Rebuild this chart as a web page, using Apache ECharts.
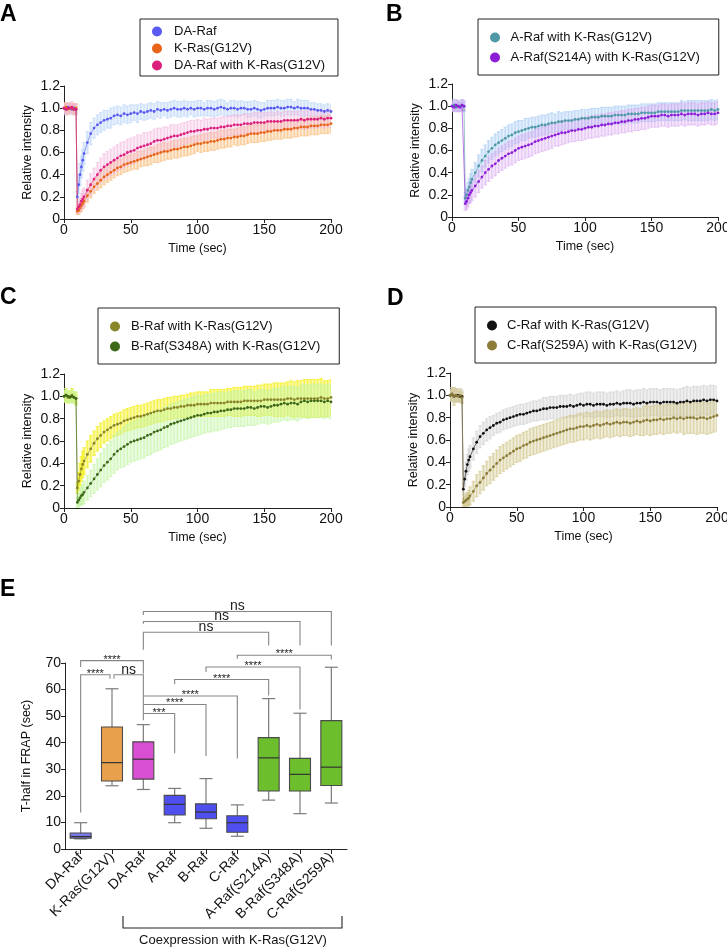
<!DOCTYPE html>
<html>
<head>
<meta charset="utf-8">
<script src="https://cdn.jsdelivr.net/npm/echarts@6/dist/echarts.min.js"></script>
<style>
html, body { margin: 0; padding: 0; background: #fff; }
#main { width: 727px; height: 947px; }
</style>
</head>
<body>
<div id="main"></div>
<script>
// FRAP sampling times (sec)
var time = [
  0,1.5,3,4.5,6,7.5,9,
  10,11,12,13,14,
  15,17.5,20,22.5,25,27.5,30,32.5,35,37.5,
  40,42.5,45,47.5,50,52.5,55,57.5,60,62.5,
  65,67.5,70,72.5,75,77.5,80,82.5,85,87.5,
  90,92.5,95,97.5,100,102.5,105,107.5,110,112.5,
  115,117.5,120,122.5,125,127.5,130,132.5,135,137.5,
  140,142.5,145,147.5,150,152.5,155,157.5,160,162.5,
  165,167.5,170,172.5,175,177.5,180,182.5,185,187.5,
  190,192.5,195,197.5,200
];

// A
var daRaf = [
  1.00,0.99,1.01,1.00,0.99,1.00,0.99,
  0.20,0.31,0.40,0.47,0.53,
  0.59,0.69,0.77,0.82,0.85,0.87,0.89,0.90,0.91,0.93,
  0.94,0.93,0.95,0.94,0.95,0.96,0.95,0.97,0.96,0.97,
  0.98,0.97,0.99,0.98,0.99,0.98,0.99,1.00,0.99,0.99,
  1.00,0.99,1.00,0.99,1.00,1.00,0.99,1.00,1.00,0.99,
  1.00,1.01,1.00,0.99,1.00,1.00,0.99,1.00,1.00,0.99,
  0.99,1.00,0.99,0.98,0.99,1.00,1.00,1.00,1.01,1.00,
  1.00,1.01,1.01,1.00,1.01,1.00,1.00,1.00,0.99,0.99,
  0.98,0.98,0.97,0.98,0.97
];
var daRafSd = [
  0.04,0.05,0.04,0.04,0.05,0.04,0.04,
  0.05,0.08,0.10,0.10,0.10,
  0.10,0.10,0.10,0.09,0.09,0.09,0.09,0.08,0.09,0.08,
  0.08,0.08,0.08,0.08,0.08,0.07,0.08,0.07,0.07,0.07,
  0.07,0.07,0.07,0.07,0.06,0.07,0.07,0.07,0.07,0.07,
  0.07,0.07,0.06,0.07,0.07,0.07,0.06,0.07,0.07,0.07,
  0.07,0.07,0.07,0.06,0.07,0.07,0.07,0.07,0.06,0.07,
  0.07,0.07,0.07,0.07,0.06,0.07,0.07,0.07,0.07,0.07,
  0.07,0.07,0.07,0.06,0.07,0.07,0.07,0.07,0.06,0.06,
  0.06,0.06,0.06,0.06,0.06
];
var kRas = [
  1.00,1.01,0.99,1.00,1.00,0.99,1.00,
  0.07,0.08,0.10,0.12,0.14,
  0.16,0.21,0.25,0.29,0.32,0.35,0.38,0.40,0.42,0.44,
  0.46,0.47,0.49,0.50,0.51,0.52,0.53,0.54,0.55,0.56,
  0.57,0.58,0.59,0.60,0.61,0.61,0.62,0.63,0.63,0.64,
  0.65,0.65,0.66,0.67,0.68,0.68,0.69,0.69,0.70,0.70,
  0.71,0.72,0.72,0.73,0.73,0.74,0.74,0.75,0.75,0.76,
  0.77,0.77,0.77,0.78,0.78,0.79,0.79,0.80,0.80,0.80,
  0.81,0.81,0.81,0.82,0.82,0.83,0.83,0.83,0.84,0.84,
  0.84,0.85,0.85,0.85,0.86
];
var kRasSd = [
  0.04,0.04,0.05,0.04,0.04,0.05,0.04,
  0.03,0.04,0.04,0.05,0.05,
  0.05,0.06,0.06,0.06,0.06,0.07,0.07,0.07,0.07,0.07,
  0.07,0.07,0.07,0.07,0.07,0.07,0.08,0.07,0.07,0.08,
  0.08,0.07,0.08,0.08,0.08,0.07,0.08,0.08,0.08,0.08,
  0.08,0.08,0.08,0.08,0.07,0.08,0.08,0.08,0.08,0.08,
  0.08,0.08,0.08,0.08,0.08,0.07,0.08,0.08,0.08,0.08,
  0.08,0.08,0.08,0.08,0.08,0.08,0.08,0.08,0.08,0.08,
  0.08,0.08,0.08,0.08,0.08,0.08,0.08,0.08,0.08,0.08,
  0.08,0.08,0.08,0.08,0.08
];
var daRafKras = [
  1.00,0.99,1.00,1.00,1.01,0.99,0.99,
  0.09,0.11,0.13,0.16,0.18,
  0.20,0.26,0.31,0.36,0.40,0.44,0.47,0.49,0.51,0.53,
  0.55,0.57,0.58,0.60,0.61,0.62,0.64,0.65,0.66,0.67,
  0.68,0.70,0.71,0.71,0.72,0.73,0.74,0.75,0.75,0.76,
  0.77,0.78,0.79,0.79,0.80,0.80,0.81,0.81,0.82,0.82,
  0.82,0.83,0.83,0.84,0.84,0.85,0.85,0.85,0.86,0.86,
  0.86,0.87,0.87,0.87,0.87,0.88,0.88,0.88,0.88,0.88,
  0.89,0.89,0.89,0.89,0.89,0.90,0.89,0.90,0.90,0.90,
  0.90,0.91,0.90,0.91,0.91
];
var daRafKrasSd = [
  0.05,0.05,0.04,0.05,0.05,0.04,0.05,
  0.04,0.05,0.06,0.07,0.08,
  0.08,0.09,0.10,0.10,0.11,0.11,0.12,0.12,0.12,0.12,
  0.12,0.12,0.12,0.12,0.12,0.12,0.12,0.11,0.12,0.11,
  0.11,0.11,0.11,0.11,0.11,0.10,0.11,0.10,0.10,0.10,
  0.10,0.10,0.10,0.10,0.10,0.09,0.10,0.09,0.09,0.09,
  0.09,0.09,0.09,0.09,0.09,0.09,0.09,0.09,0.09,0.09,
  0.09,0.09,0.09,0.09,0.09,0.08,0.09,0.08,0.09,0.08,
  0.08,0.08,0.08,0.08,0.08,0.08,0.08,0.08,0.08,0.08,
  0.08,0.08,0.08,0.08,0.08
];

// B
var aRaf = [
  1.00,1.01,0.99,1.00,1.00,1.01,1.00,
  0.17,0.20,0.24,0.27,0.31,
  0.34,0.40,0.46,0.51,0.55,0.59,0.62,0.65,0.67,0.69,
  0.71,0.73,0.74,0.76,0.77,0.78,0.79,0.80,0.81,0.81,
  0.82,0.83,0.83,0.84,0.85,0.85,0.86,0.86,0.87,0.87,
  0.87,0.88,0.88,0.89,0.89,0.89,0.90,0.90,0.90,0.91,
  0.91,0.91,0.91,0.92,0.92,0.92,0.92,0.93,0.93,0.93,
  0.93,0.94,0.94,0.94,0.94,0.94,0.95,0.95,0.95,0.95,
  0.95,0.95,0.95,0.96,0.96,0.96,0.96,0.96,0.96,0.96,
  0.96,0.96,0.97,0.96,0.97
];
var aRafSd = [
  0.04,0.05,0.04,0.05,0.04,0.05,0.04,
  0.05,0.06,0.07,0.08,0.08,
  0.09,0.09,0.10,0.10,0.10,0.10,0.10,0.10,0.10,0.10,
  0.10,0.10,0.10,0.10,0.10,0.09,0.10,0.09,0.09,0.09,
  0.09,0.09,0.09,0.09,0.09,0.08,0.09,0.08,0.08,0.08,
  0.08,0.08,0.08,0.08,0.08,0.08,0.08,0.08,0.08,0.08,
  0.08,0.08,0.08,0.08,0.08,0.08,0.08,0.08,0.08,0.08,
  0.08,0.08,0.08,0.08,0.08,0.08,0.08,0.08,0.08,0.08,
  0.08,0.08,0.08,0.09,0.08,0.09,0.09,0.09,0.09,0.09,
  0.09,0.09,0.09,0.09,0.09
];
var aRafS214A = [
  1.00,0.99,1.01,1.00,0.99,1.01,1.00,
  0.12,0.14,0.17,0.20,0.22,
  0.24,0.28,0.32,0.36,0.40,0.43,0.46,0.48,0.51,0.53,
  0.55,0.57,0.58,0.60,0.62,0.63,0.64,0.65,0.66,0.68,
  0.69,0.70,0.71,0.72,0.73,0.74,0.75,0.76,0.76,0.77,
  0.78,0.78,0.79,0.79,0.80,0.81,0.81,0.82,0.82,0.83,
  0.83,0.84,0.84,0.85,0.85,0.86,0.86,0.87,0.87,0.88,
  0.88,0.89,0.89,0.90,0.91,0.91,0.91,0.92,0.92,0.91,
  0.92,0.92,0.92,0.93,0.92,0.93,0.93,0.93,0.92,0.93,
  0.93,0.94,0.93,0.93,0.94
];
var aRafS214ASd = [
  0.05,0.04,0.05,0.05,0.04,0.05,0.05,
  0.06,0.07,0.08,0.08,0.09,
  0.09,0.10,0.10,0.10,0.11,0.11,0.11,0.11,0.11,0.11,
  0.11,0.11,0.11,0.11,0.11,0.11,0.11,0.11,0.11,0.11,
  0.11,0.11,0.11,0.11,0.11,0.10,0.11,0.11,0.10,0.10,
  0.10,0.10,0.10,0.10,0.10,0.10,0.10,0.10,0.10,0.10,
  0.10,0.10,0.10,0.10,0.10,0.10,0.10,0.10,0.10,0.10,
  0.10,0.10,0.10,0.10,0.10,0.10,0.10,0.10,0.10,0.10,
  0.10,0.10,0.10,0.10,0.10,0.10,0.10,0.10,0.10,0.10,
  0.10,0.10,0.10,0.10,0.10
];

// C
var bRaf = [
  1.00,1.01,0.99,1.00,1.01,0.99,0.98,
  0.18,0.24,0.30,0.35,0.39,
  0.42,0.48,0.53,0.58,0.62,0.65,0.68,0.70,0.72,0.74,
  0.75,0.76,0.78,0.79,0.80,0.81,0.82,0.82,0.83,0.84,
  0.85,0.86,0.87,0.87,0.88,0.89,0.89,0.90,0.90,0.91,
  0.91,0.92,0.92,0.92,0.93,0.93,0.93,0.93,0.94,0.94,
  0.94,0.94,0.94,0.95,0.95,0.95,0.95,0.95,0.96,0.96,
  0.96,0.96,0.96,0.96,0.97,0.97,0.97,0.97,0.97,0.97,
  0.97,0.98,0.98,0.97,0.98,0.98,0.98,0.98,0.98,0.98,
  0.98,0.99,0.98,0.98,0.99
];
var bRafSd = [
  0.05,0.06,0.05,0.05,0.06,0.05,0.05,
  0.05,0.08,0.10,0.11,0.12,
  0.12,0.12,0.12,0.11,0.11,0.11,0.10,0.10,0.10,0.10,
  0.10,0.10,0.10,0.10,0.10,0.10,0.10,0.10,0.10,0.10,
  0.10,0.10,0.10,0.10,0.10,0.10,0.10,0.10,0.10,0.10,
  0.10,0.10,0.11,0.11,0.11,0.11,0.11,0.11,0.12,0.12,
  0.12,0.12,0.12,0.12,0.12,0.13,0.13,0.13,0.13,0.13,
  0.13,0.13,0.14,0.14,0.14,0.14,0.14,0.15,0.15,0.15,
  0.15,0.15,0.16,0.16,0.16,0.16,0.17,0.17,0.17,0.17,
  0.17,0.17,0.16,0.16,0.16
];
var bRafS348A = [
  1.00,1.01,1.00,0.99,1.00,0.99,0.98,
  0.05,0.07,0.09,0.11,0.12,
  0.14,0.18,0.22,0.26,0.30,0.34,0.38,0.41,0.44,0.48,
  0.51,0.53,0.55,0.57,0.59,0.60,0.61,0.62,0.63,0.65,
  0.66,0.68,0.69,0.70,0.72,0.73,0.75,0.76,0.77,0.78,
  0.79,0.80,0.81,0.82,0.83,0.83,0.84,0.85,0.85,0.86,
  0.86,0.87,0.87,0.88,0.88,0.89,0.89,0.89,0.89,0.90,
  0.90,0.89,0.90,0.91,0.91,0.90,0.91,0.92,0.92,0.93,
  0.94,0.93,0.94,0.94,0.93,0.95,0.96,0.95,0.96,0.96,
  0.96,0.96,0.95,0.96,0.95
];
var bRafS348ASd = [
  0.05,0.06,0.05,0.05,0.06,0.05,0.06,
  0.05,0.06,0.07,0.08,0.09,
  0.10,0.11,0.12,0.13,0.14,0.15,0.15,0.16,0.16,0.17,
  0.17,0.17,0.18,0.18,0.18,0.18,0.18,0.18,0.18,0.18,
  0.18,0.18,0.18,0.18,0.18,0.18,0.18,0.18,0.18,0.18,
  0.18,0.18,0.18,0.18,0.18,0.17,0.17,0.17,0.17,0.17,
  0.17,0.17,0.16,0.16,0.16,0.16,0.16,0.16,0.16,0.16,
  0.16,0.15,0.15,0.15,0.15,0.15,0.15,0.15,0.15,0.15,
  0.15,0.15,0.15,0.15,0.15,0.15,0.15,0.15,0.15,0.15,
  0.15,0.15,0.15,0.15,0.15
];

// D
var cRaf = [
  1.00,1.01,0.99,1.00,1.00,0.99,0.99,
  0.16,0.25,0.32,0.38,0.42,
  0.45,0.52,0.58,0.63,0.66,0.69,0.71,0.73,0.75,0.76,
  0.78,0.79,0.80,0.81,0.82,0.83,0.83,0.84,0.85,0.86,
  0.86,0.87,0.88,0.88,0.89,0.89,0.89,0.90,0.90,0.90,
  0.91,0.90,0.91,0.92,0.91,0.92,0.92,0.91,0.92,0.92,
  0.92,0.91,0.92,0.92,0.93,0.92,0.93,0.93,0.93,0.92,
  0.93,0.93,0.94,0.93,0.94,0.94,0.94,0.93,0.94,0.94,
  0.94,0.94,0.93,0.94,0.94,0.95,0.94,0.95,0.95,0.95,
  0.96,0.95,0.96,0.96,0.95
];
var cRafSd = [
  0.05,0.06,0.05,0.06,0.05,0.05,0.06,
  0.05,0.07,0.08,0.09,0.10,
  0.10,0.10,0.10,0.10,0.10,0.10,0.10,0.09,0.09,0.09,
  0.09,0.09,0.09,0.09,0.09,0.09,0.09,0.09,0.09,0.09,
  0.09,0.09,0.10,0.10,0.10,0.10,0.10,0.10,0.10,0.10,
  0.10,0.10,0.10,0.10,0.11,0.11,0.11,0.11,0.11,0.11,
  0.11,0.11,0.11,0.11,0.11,0.11,0.11,0.12,0.12,0.12,
  0.12,0.12,0.12,0.12,0.12,0.12,0.12,0.12,0.12,0.12,
  0.12,0.12,0.12,0.12,0.13,0.13,0.13,0.13,0.13,0.13,
  0.13,0.13,0.13,0.13,0.13
];
var cRafS259A = [
  1.00,1.01,0.99,1.00,0.99,1.00,0.98,
  0.04,0.05,0.06,0.07,0.08,
  0.10,0.14,0.19,0.22,0.26,0.30,0.33,0.36,0.39,0.42,
  0.44,0.46,0.48,0.50,0.52,0.53,0.55,0.56,0.58,0.59,
  0.60,0.61,0.62,0.63,0.64,0.65,0.66,0.67,0.68,0.69,
  0.70,0.70,0.71,0.72,0.72,0.73,0.72,0.73,0.74,0.73,
  0.74,0.75,0.74,0.75,0.76,0.75,0.76,0.76,0.75,0.76,
  0.77,0.76,0.77,0.78,0.77,0.78,0.78,0.79,0.78,0.79,
  0.79,0.80,0.79,0.80,0.79,0.80,0.80,0.80,0.79,0.80,
  0.80,0.79,0.80,0.81,0.82
];
var cRafS259ASd = [
  0.05,0.06,0.08,0.06,0.05,0.06,0.05,
  0.04,0.05,0.06,0.06,0.07,
  0.08,0.09,0.10,0.10,0.11,0.11,0.12,0.12,0.12,0.12,
  0.12,0.12,0.12,0.12,0.12,0.12,0.12,0.12,0.12,0.12,
  0.12,0.12,0.12,0.12,0.12,0.12,0.12,0.12,0.12,0.12,
  0.12,0.12,0.12,0.12,0.12,0.12,0.12,0.12,0.12,0.12,
  0.12,0.12,0.12,0.12,0.12,0.12,0.12,0.12,0.12,0.12,
  0.12,0.12,0.13,0.13,0.13,0.13,0.13,0.13,0.13,0.13,
  0.13,0.13,0.13,0.13,0.14,0.14,0.14,0.14,0.14,0.14,
  0.14,0.14,0.14,0.14,0.14
];

// E: T-half in FRAP, [min, Q1, median, Q3, max]
var tHalfCats = ['DA-Raf', 'K-Ras(G12V)', 'DA-Raf', 'A-Raf', 'B-Raf', 'C-Raf',
  'A-Raf(S214A)', 'B-Raf(S348A)', 'C-Raf(S259A)'];
var tHalf = [
  [3.8, 4.1, 4.7, 6.0, 9.9],
  [23.8, 25.6, 32.5, 45.9, 60.3],
  [22.4, 26.3, 33.8, 40.3, 46.8],
  [9.9, 12.8, 16.8, 20.2, 22.8],
  [7.8, 11.4, 13.9, 17.0, 26.5],
  [4.8, 6.3, 9.9, 12.5, 16.6],
  [18.4, 21.8, 34.3, 41.9, 56.6],
  [13.3, 21.8, 28.1, 34.1, 51.1],
  [17.3, 23.9, 30.8, 48.3, 68.4]
];
// significance brackets: [from, to, top, leftLegEnd, rightLegEnd]
var brackets = [
  [2, 8, 89.4, 88.1, 76.6],
  [2, 7, 85.6, 84.8, 76.6],
  [2, 6, 81.6, 75.0, 76.6],
  [0, 2, 70.9, 68.5, 66.0],
  [0, 1, 65.6, 13.7, 64.1],
  [1, 2, 65.6, 64.1, 48.5],
  [5, 8, 72.9, 71.6, 71.3],
  [4, 7, 68.5, 66.6, 52.5],
  [3, 6, 63.8, 62.0, 57.8],
  [2, 5, 57.6, 57.6, 34.1],
  [2, 4, 54.4, 54.4, 35.0],
  [2, 3, 51.0, 51.0, 36.0]
];
var bracketLabels = ['ns', 'ns', 'ns', '****', '****', 'ns', '****', '****', '****', '****', '****', '***'];

var FONT = '"Liberation Sans", Arial, Helvetica, sans-serif';
var boxColors = ['#7c7cf2', '#e9a04c', '#d84fd2', '#4f4ff0', '#4f4ff0', '#4f4ff0', '#6cbe2c', '#6cbe2c', '#6cbe2c'];
// small horizontal shifts where two brackets meet on one box
var legShift = { 4: [0, -2], 5: [2, 0] };

var panels = [
  { grid: 0, series: [
    { name: 'DA-Raf', mean: daRaf, sd: daRafSd, color: '#5a5af2', band: [196, 218, 248], a: 0.85 },
    { name: 'K-Ras(G12V)', mean: kRas, sd: kRasSd, color: '#e8641a', band: [248, 196, 136], a: 0.85 },
    { name: 'DA-Raf with K-Ras(G12V)', mean: daRafKras, sd: daRafKrasSd, color: '#dc1f7c', band: [242, 182, 222], a: 0.6 }
  ]},
  { grid: 1, series: [
    { name: 'A-Raf with K-Ras(G12V)', mean: aRaf, sd: aRafSd, color: '#4f98a6', band: [180, 210, 246], a: 0.85 },
    { name: 'A-Raf(S214A) with K-Ras(G12V)', mean: aRafS214A, sd: aRafS214ASd, color: '#8d1ed8', band: [216, 168, 240], a: 0.6 }
  ]},
  { grid: 2, series: [
    { name: 'B-Raf with K-Ras(G12V)', mean: bRaf, sd: bRafSd, color: '#888628', band: [244, 240, 40], a: 0.9 },
    { name: 'B-Raf(S348A) with K-Ras(G12V)', mean: bRafS348A, sd: bRafS348ASd, color: '#3c6818', band: [194, 244, 164], a: 0.72 }
  ]},
  { grid: 3, series: [
    { name: 'C-Raf with K-Ras(G12V)', mean: cRaf, sd: cRafSd, color: '#111111', band: [214, 214, 214], a: 0.85 },
    { name: 'C-Raf(S259A) with K-Ras(G12V)', mean: cRafS259A, sd: cRafS259ASd, color: '#8c7c3a', band: [210, 198, 142], a: 0.75 }
  ]}
];

var grids = [
  { left: 64, top: 86, width: 267, height: 133 },
  { left: 452, top: 84, width: 266, height: 133 },
  { left: 64, top: 374, width: 267, height: 134 },
  { left: 450, top: 373, width: 267, height: 134 },
  { left: 65, top: 663, width: 282, height: 186 }
];
grids.forEach(function (g) { g.outerBoundsMode = 'none'; g.containLabel = false; });

var axisLine = { show: true, lineStyle: { color: '#222', width: 1 } };
var axisTick = { show: true, length: 4, lineStyle: { color: '#222', width: 1 } };
var labelStyle = { color: '#111', fontSize: 14, fontFamily: FONT, margin: 4 };
var nameStyle = { color: '#111', fontSize: 12.5, fontFamily: FONT };

var xAxes = [], yAxes = [];
for (var g = 0; g < 4; g++) {
  xAxes.push({
    type: 'value', gridIndex: g, min: 0, max: 200, interval: 50,
    name: 'Time (sec)', nameLocation: 'middle', nameGap: 23, nameTextStyle: nameStyle,
    axisLine: axisLine, axisTick: axisTick, axisLabel: labelStyle, splitLine: { show: false }
  });
  yAxes.push({
    type: 'value', gridIndex: g, min: 0, max: 1.2, interval: 0.2,
    name: 'Relative intensity', nameLocation: 'middle', nameGap: 30, nameTextStyle: nameStyle,
    axisLine: axisLine, axisTick: axisTick, splitLine: { show: false },
    axisLabel: Object.assign({}, labelStyle, {
      formatter: function (v) { return v === 0 ? '0' : v.toFixed(1); }
    })
  });
}
xAxes.push({
  type: 'category', gridIndex: 4, data: tHalfCats, boundaryGap: true,
  axisLine: axisLine, axisTick: { show: true, length: 5, alignWithLabel: true, lineStyle: { color: '#222' } },
  axisLabel: Object.assign({}, labelStyle, { rotate: 45, interval: 0, margin: 6 }),
  splitLine: { show: false }
});
yAxes.push({
  type: 'value', gridIndex: 4, min: 0, max: 70, interval: 10,
  name: 'T-half in FRAP (sec)', nameLocation: 'middle', nameGap: 32, nameTextStyle: nameStyle,
  axisLine: axisLine, axisTick: axisTick, axisLabel: labelStyle, splitLine: { show: false }
});

// SD drawn as dense error bars: a wide soft stroke plus a thin capped bar
function errorBars(rgb, a) {
  var soft = 'rgba(' + rgb.join(',') + ',' + (a * 0.55) + ')';
  var hard = 'rgba(' + rgb.join(',') + ',' + a + ')';
  return function (params, api) {
    var t = api.value(0);
    var lo = api.coord([t, api.value(1)]);
    var hi = api.coord([t, api.value(2)]);
    var w = 1.7;
    var st = { stroke: hard, lineWidth: 0.9 };
    return { type: 'group', children: [
      { type: 'line', shape: { x1: lo[0], y1: lo[1], x2: hi[0], y2: hi[1] }, style: { stroke: soft, lineWidth: 3.2 } },
      { type: 'line', shape: { x1: lo[0], y1: lo[1], x2: hi[0], y2: hi[1] }, style: st },
      { type: 'line', shape: { x1: lo[0] - w, y1: lo[1], x2: lo[0] + w, y2: lo[1] }, style: st },
      { type: 'line', shape: { x1: hi[0] - w, y1: hi[1], x2: hi[0] + w, y2: hi[1] }, style: st }
    ]};
  };
}

var series = [];
panels.forEach(function (p) {
  p.series.forEach(function (s) {
    var errData = time.map(function (t, i) { return [t, s.mean[i] - s.sd[i], s.mean[i] + s.sd[i]]; });
    series.push({
      type: 'custom', name: s.name + ' SD', xAxisIndex: p.grid, yAxisIndex: p.grid,
      renderItem: errorBars(s.band, s.a), data: errData, clip: true,
      encode: { x: 0, y: [1, 2] }, silent: true
    });
    series.push({
      type: 'line', name: s.name, xAxisIndex: p.grid, yAxisIndex: p.grid,
      data: time.map(function (t, i) { return [t, s.mean[i]]; }),
      symbol: 'circle', symbolSize: 2.8, showSymbol: true, showAllSymbol: true,
      itemStyle: { color: s.color }, lineStyle: { color: s.color, width: 0.6 },
      silent: true
    });
  });
});

// E boxes
series.push({
  type: 'custom', name: 'T-half', xAxisIndex: 4, yAxisIndex: 4,
  data: tHalf.map(function (b, i) { return [i].concat(b); }),
  encode: { x: 0, y: [1, 2, 3, 4, 5] },
  renderItem: function (params, api) {
    var i = api.value(0);
    var pMin = api.coord([i, api.value(1)]), pQ1 = api.coord([i, api.value(2)]),
      pMed = api.coord([i, api.value(3)]), pQ3 = api.coord([i, api.value(4)]),
      pMax = api.coord([i, api.value(5)]);
    var x = pMed[0], hw = 10.5, cw = 6.5;
    var wst = { stroke: '#7a7a7a', lineWidth: 1.2 };
    return { type: 'group', children: [
      { type: 'line', shape: { x1: x, y1: pQ3[1], x2: x, y2: pMax[1] }, style: wst },
      { type: 'line', shape: { x1: x - cw, y1: pMax[1], x2: x + cw, y2: pMax[1] }, style: wst },
      { type: 'line', shape: { x1: x, y1: pQ1[1], x2: x, y2: pMin[1] }, style: wst },
      { type: 'line', shape: { x1: x - cw, y1: pMin[1], x2: x + cw, y2: pMin[1] }, style: wst },
      { type: 'rect', shape: { x: x - hw, y: pQ3[1], width: 2 * hw, height: pQ1[1] - pQ3[1] },
        style: { fill: boxColors[params.dataIndex], stroke: '#4a4a4a', lineWidth: 1.1 } },
      { type: 'line', shape: { x1: x - hw, y1: pMed[1], x2: x + hw, y2: pMed[1] },
        style: { stroke: '#333', lineWidth: 1.2 } }
    ]};
  }
});

// E brackets
series.push({
  type: 'custom', name: 'brackets', xAxisIndex: 4, yAxisIndex: 4, clip: false,
  data: brackets, encode: { x: [0, 1], y: [2, 3, 4] }, silent: true,
  renderItem: function (params, api) {
    var k = params.dataIndex;
    var sh = legShift[k] || [0, 0];
    var a = api.coord([api.value(0), api.value(2)]);
    var b = api.coord([api.value(1), api.value(2)]);
    var aEnd = api.coord([api.value(0), api.value(3)]);
    var bEnd = api.coord([api.value(1), api.value(4)]);
    var xa = a[0] + sh[0], xb = b[0] + sh[1];
    var lab = bracketLabels[k];
    var isNs = lab === 'ns';
    return { type: 'group', children: [
      { type: 'polyline', shape: { points: [[xa, aEnd[1]], [xa, a[1]], [xb, b[1]], [xb, bEnd[1]]] },
        style: { stroke: '#858585', lineWidth: 1.1, fill: null } },
      { type: 'text', x: (xa + xb) / 2, y: isNs ? a[1] + 2 : a[1] - 1,
        style: { text: lab, fill: '#222', font: (isNs ? '14px ' : '11px ') + FONT,
          align: 'center', verticalAlign: isNs ? 'bottom' : 'middle' } }
    ]};
  }
});

function legend(names, left, top, pad, gap, iw) {
  return {
    data: names, orient: 'vertical', left: left, top: top, padding: pad, itemGap: gap,
    icon: 'circle', itemWidth: iw, itemHeight: 10, borderColor: '#222', borderWidth: 1,
    borderRadius: 0, backgroundColor: '#fff', selectedMode: false,
    textStyle: { color: '#111', fontSize: 13, fontFamily: FONT }
  };
}

var letters = [['A', 0, 3], ['B', 386, 3], ['C', 0, 286], ['D', 387, 287], ['E', 0, 578]];

var option = {
  animation: false,
  backgroundColor: '#fff',
  grid: grids,
  xAxis: xAxes,
  yAxis: yAxes,
  legend: [
    legend(['DA-Raf', 'K-Ras(G12V)', 'DA-Raf with K-Ras(G12V)'], 140, 19, [6, 13, 4, 12], 4, 24),
    legend(['A-Raf with K-Ras(G12V)', 'A-Raf(S214A) with K-Ras(G12V)'], 478, 19, [12, 19, 11, 12], 7, 21),
    legend(['B-Raf with K-Ras(G12V)', 'B-Raf(S348A) with K-Ras(G12V)'], 98, 308, [12, 19, 11, 12], 7, 22),
    legend(['C-Raf with K-Ras(G12V)', 'C-Raf(S259A) with K-Ras(G12V)'], 475, 307, [12, 19, 11, 12], 7, 20)
  ],
  graphic: letters.map(function (l) {
    return { type: 'text', left: l[1], top: l[2],
      style: { text: l[0], font: 'bold 23px ' + FONT, fill: '#000' } };
  }).concat([
    { type: 'polyline', shape: { points: [[123, 916], [123, 928], [342, 928], [342, 916]] },
      style: { stroke: '#222', lineWidth: 1.1, fill: null } },
    { type: 'text', x: 233, y: 940,
      style: { text: 'Coexpression with K-Ras(G12V)', font: '13px ' + FONT, fill: '#111',
        align: 'center', verticalAlign: 'middle' } }
  ]),
  series: series
};

var chart = echarts.init(document.getElementById('main'));
chart.setOption(option);
</script>
</body>
</html>
